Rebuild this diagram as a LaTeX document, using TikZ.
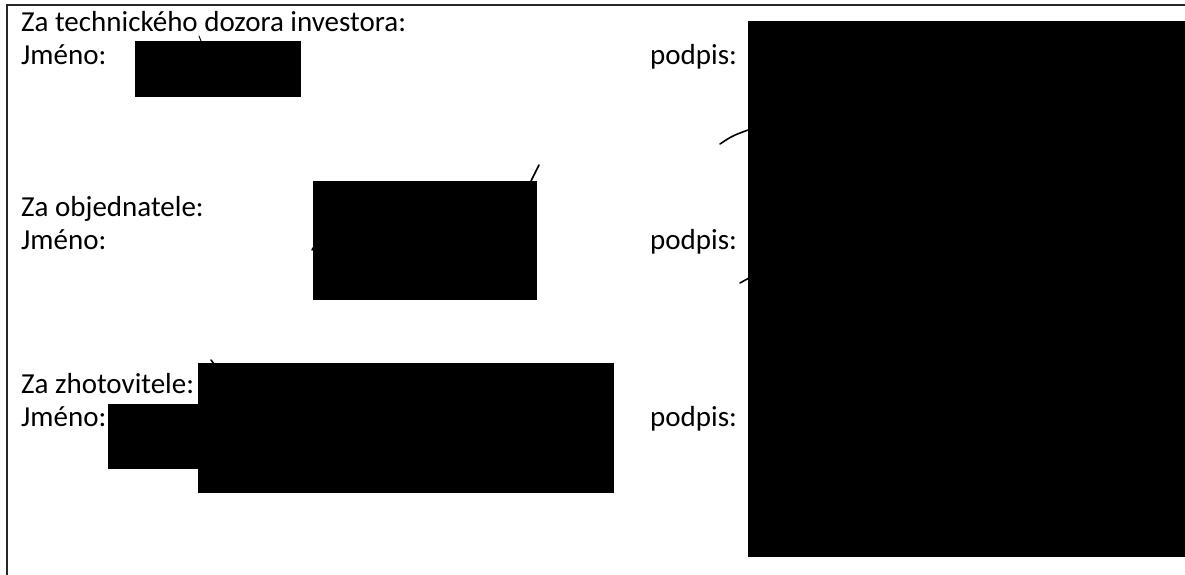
\documentclass[tikz,border=0pt]{standalone}
\usepackage{fontspec}
\setmainfont{Carlito}
\begin{document}
\begin{tikzpicture}[x=1pt,y=-1pt,
  lbl/.style={anchor=base west,inner sep=0pt,font=\fontsize{29}{34}\selectfont},
  redact/.style={fill=black},
  frame/.style={draw=black!85,line width=1.2pt},
  pen/.style={draw=black,line width=1.6pt,line cap=round}]
\useasboundingbox (0,0) rectangle (1185,575);
% frame
\draw[frame] (7,575) -- (7,5) -- (1185,5);
% texts
\node[lbl] (t1) at (21,32) {Za technického dozora investora:};
\node[lbl] (j1) at (21,65) {Jméno:};
\node[lbl] (p1) at (650,65) {podpis:};
\node[lbl] (t2) at (21,216) {Za objednatele:};
\node[lbl] (j2) at (21,249) {Jméno:};
\node[lbl] (p2) at (650,249) {podpis:};
\node[lbl] (t3) at (21,393) {Za zhotovitele:};
\node[lbl] (j3) at (21,426) {Jméno:};
\node[lbl] (p3) at (650,426) {podpis:};
% redaction boxes
\fill[redact] (135,41) rectangle (301,97);
\fill[redact] (313,181) rectangle (537,300);
\fill[redact] (198,363) rectangle (614,493);
\fill[redact] (108,404) rectangle (200,469);
\fill[redact] (748,21) rectangle (1185,557);
% pen marks
\draw[pen,line width=1pt] (199,36) -- (201,41);
\draw[pen] (720,144) .. controls (732,136) .. (748,130);
\draw[pen] (531,181) -- (539,165);
\draw[pen] (312,250) -- (315,245);
\draw[pen] (740,283) -- (749,278);
\draw[pen] (211,360) -- (214,364);
\end{tikzpicture}
\end{document}
